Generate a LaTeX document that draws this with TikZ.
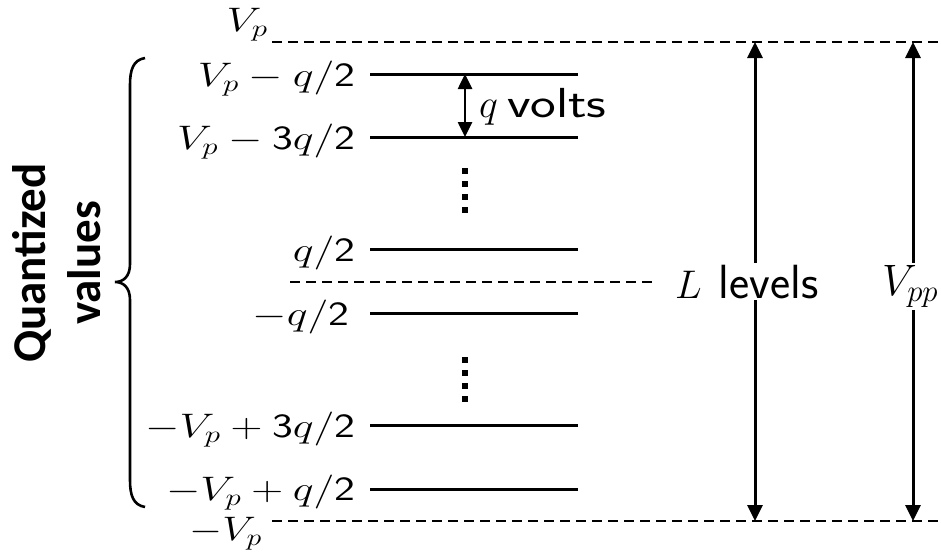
\RequirePackage{fix-cm}
\documentclass[tikz,border=0pt]{standalone}
\usepackage{fontspec}
\usepackage{graphicx}
\newfontfamily\qfont{Carlito}
\usetikzlibrary{arrows.meta}
\begin{document}
\begin{tikzpicture}[x=1pt,y=-1pt,
  lvl/.style={line width=3pt},
  dsh/.style={line width=2.6pt, dash pattern=on 10pt off 6pt},
  lab/.style={anchor=base east, inner sep=0pt, font=\fontsize{34}{40}\selectfont},
  dimarrow/.style={line width=3pt, {Triangle[width=15pt,length=16pt]}-{Triangle[width=15pt,length=16pt]}},
  qarrow/.style={line width=2.6pt, {Triangle[width=14pt,length=15pt]}-{Triangle[width=14pt,length=15pt]}},
  big/.style={anchor=base west, fill=white, inner sep=2pt},
  vdots/.style={line width=6pt, dash pattern=on 6pt off 7pt},
  bracepath/.style={line width=2.6pt}
]
\useasboundingbox (0,0) rectangle (941,552);
% level lines
\foreach \i/\y in {1/74,2/137,3/249,4/313,5/425,6/489}{
  \coordinate (a\i) at (370,\y);
  \coordinate (b\i) at (578,\y);
  \draw[lvl] (a\i) -- (b\i);
}
% dashed reference lines
\coordinate (ta) at (272,42);  \coordinate (tb) at (941,42);
\coordinate (ma) at (290,282); \coordinate (mb) at (655,282);
\coordinate (ba) at (272,521); \coordinate (bb) at (941,521);
\draw[dsh] (ta) -- (tb);
\draw[dsh] (ma) -- (mb);
\draw[dsh] (ba) -- (bb);
% labels
\node[lab] (vp) at (268,31) {\scalebox{1.3}[1]{$V_p$}};
\node[lab] (l1)  at (355,86)  {\scalebox{1.3}[1]{$V_p-q/\mathsf{2}$}};
\node[lab] (l2)  at (355,149) {\scalebox{1.3}[1]{$V_p-\mathsf{3}q/\mathsf{2}$}};
\node[lab] (l3)  at (355,261) {\scalebox{1.3}[1]{$q/\mathsf{2}$}};
\node[lab] (l4)  at (349,325) {\scalebox{1.3}[1]{$-q/\mathsf{2}$}};
\node[lab] (l5)  at (355,437) {\scalebox{1.3}[1]{$-V_p+\mathsf{3}q/\mathsf{2}$}};
\node[lab] (l6)  at (355,500) {\scalebox{1.3}[1]{$-V_p+q/\mathsf{2}$}};
\node[lab] (mvp) at (262,540) {\scalebox{1.25}[1]{$-V_p$}};
% dots
\coordinate (d1a) at (465,168); \coordinate (d1b) at (465,213);
\coordinate (d2a) at (465,357); \coordinate (d2b) at (465,402);
\draw[vdots] (d1a) -- (d1b);
\draw[vdots] (d2a) -- (d2b);
% q arrow
\coordinate (qa) at (465,74); \coordinate (qb) at (465,137);
\draw[qarrow] (qa) -- (qb);
\node[lab, anchor=base west] (qv) at (479,117)
  {{\fontsize{40}{46}\selectfont$q$}\hspace{9pt}\scalebox{1.3}[1]{\fontsize{42}{48}\selectfont\sffamily volts}};
% L levels and Vpp arrows
\coordinate (la) at (755,42); \coordinate (lb) at (755,521);
\coordinate (pa) at (913,42); \coordinate (pb) at (913,521);
\draw[dimarrow] (la) -- (lb);
\draw[dimarrow] (pa) -- (pb);
\node[big] (lev) at (673,298)
  {{\fontsize{40}{48}\selectfont$L$}\hspace{17pt}{\fontsize{48}{54}\selectfont\sffamily levels}};
\node[big, font=\fontsize{44}{50}\selectfont] (vpp) at (880,295) {$V_{pp}$};
% brace
\draw[bracepath] (145,58) .. controls (133,60) and (130,70) .. (130,85)
  -- (130,264) .. controls (130,277) and (123,282) .. (115,282)
  .. controls (123,282) and (130,287) .. (130,300)
  -- (130,480) .. controls (130,495) and (133,505) .. (145,507);
% side title
\node[rotate=90, align=center, inner sep=0pt,
      font=\qfont\bfseries\fontsize{47}{55}\selectfont] (title) at (57,263) {Quantized\\values};
\end{tikzpicture}
\end{document}
